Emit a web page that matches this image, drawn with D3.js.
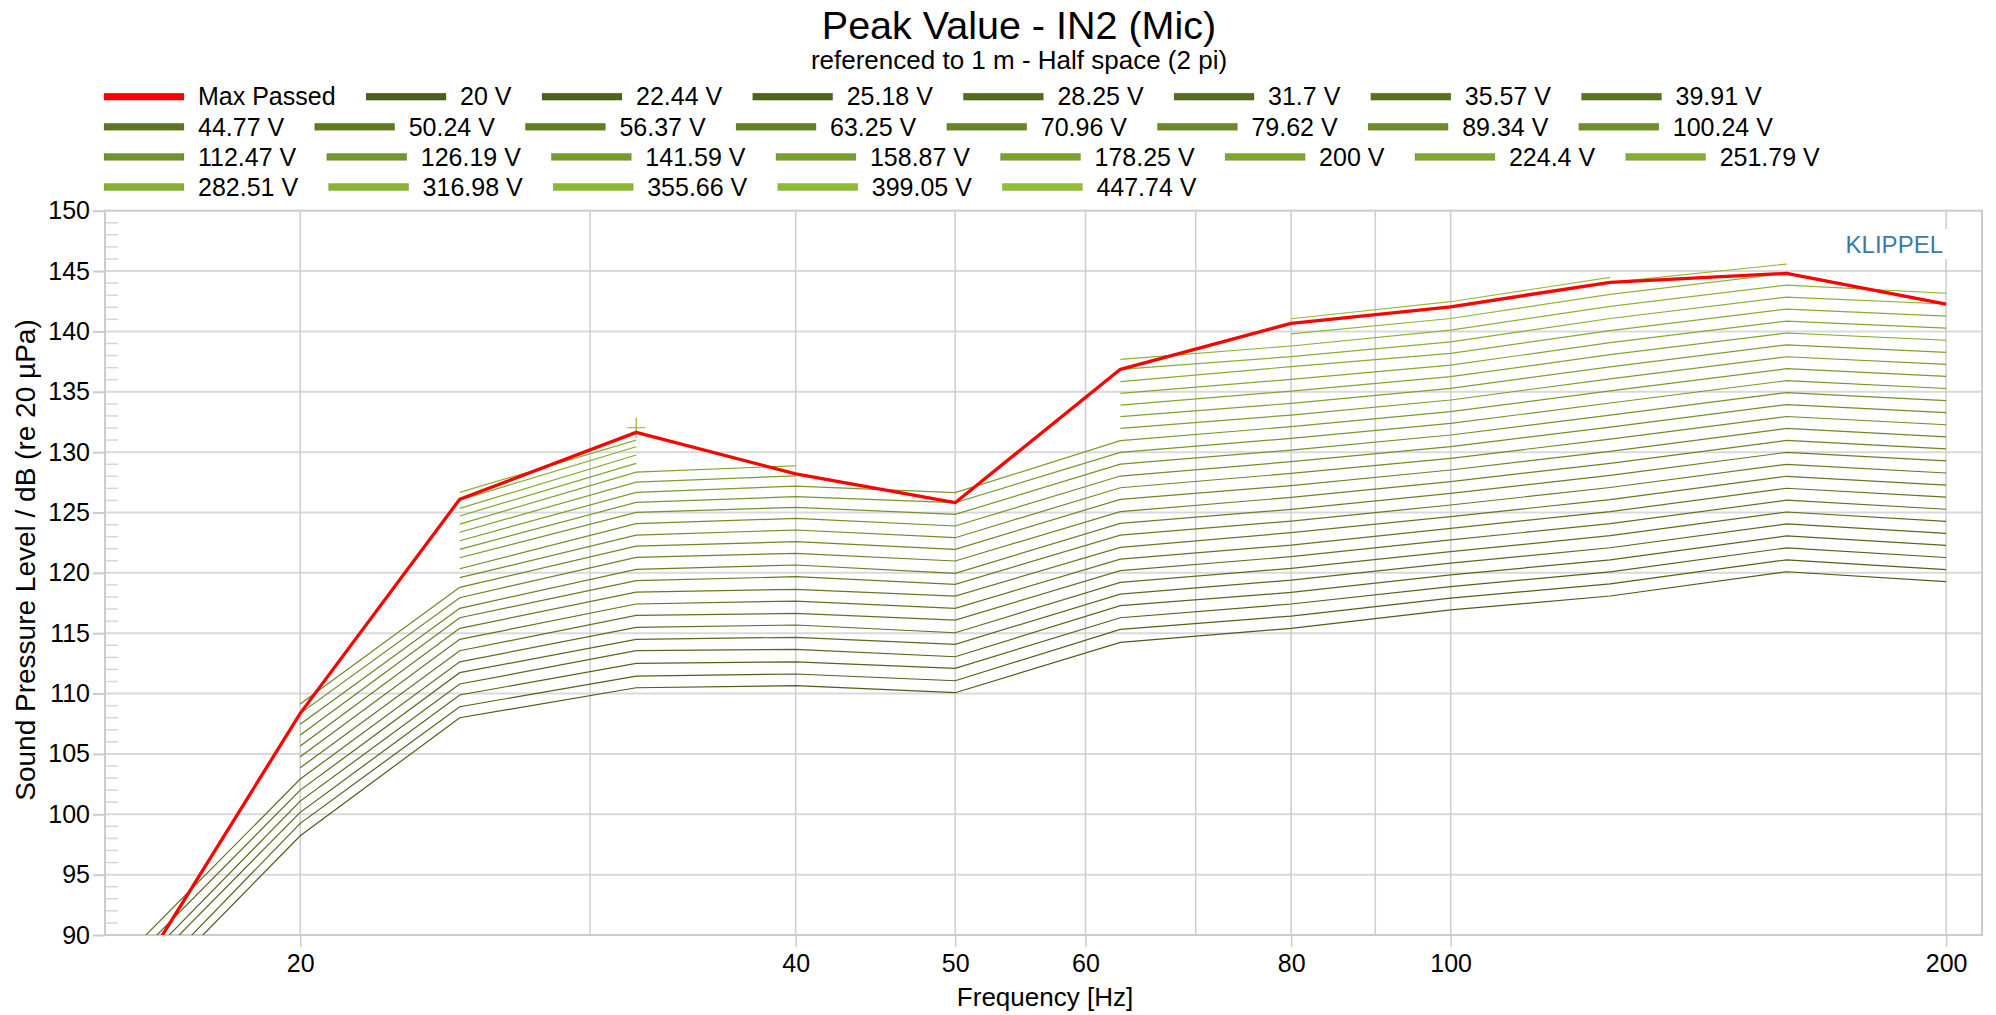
<!DOCTYPE html>
<html><head><meta charset="utf-8">
<script src="https://cdn.jsdelivr.net/npm/d3@7"></script>
<style>html,body{margin:0;padding:0;background:#fff}svg{display:block}text{font-family:'Liberation Sans',Arial,Helvetica,sans-serif}</style>
</head><body><svg id="c" width="1996" height="1015"></svg>
<script>
// ---------------- data ----------------
const freqs = [16, 20, 25, 32, 40, 50, 63, 80, 100, 125, 160, 200];
const voltages = ["20 V","22.44 V","25.18 V","28.25 V","31.7 V","35.57 V","39.91 V",
  "44.77 V","50.24 V","56.37 V","63.25 V","70.96 V","79.62 V","89.34 V","100.24 V",
  "112.47 V","126.19 V","141.59 V","158.87 V","178.25 V","200 V","224.4 V","251.79 V",
  "282.51 V","316.98 V","355.66 V","399.05 V","447.74 V"];
const maxPassed = [87.1, 108.36, 126.1, 131.64, 128.2, 125.81, 136.86, 140.67, 142.04, 144.07, 144.81, 142.27];
// SPL per frequency, indexed by voltage step (null / missing = not measured)
const spl16 = [84.75, 85.63, 86.77, 87.59, 88.64, 89.56];
const spl20 = [98.22, 99.25, 100.16, 101.09, 102.0, 102.92, 103.85, 104.77, 105.65, 106.56, 107.45, 108.36, 109.13];
const spl25 = [108.0, 108.91, 109.88, 110.79, 111.73, 112.63, 113.55, 114.49, 115.40, 116.28, 117.06, 117.94, 118.80,
  119.6, 120.34, 121.25, 121.95, 122.66, 123.36, 124.04, 124.71, 125.34, 126.03, 126.67];
const spl32 = [110.48, 111.45, 112.50, 113.55, 114.49, 115.48, 116.48, 117.42, 118.41, 119.35, 120.29, 121.28, 122.22,
  123.13, 124.07, 125.01, 125.84, 126.67, 127.52, 128.35, 129.07, 129.76, 130.45, 131.0, 132.02];
const spl40 = [110.65, 111.62, 112.63, 113.66, 114.66, 115.68, 116.64, 117.66, 118.63, 119.68, 120.65, 121.62, 122.58,
  123.55, 124.51, 125.43, 126.31, 127.19, 128.04, 128.87];
const spl50 = [110.07, 111.06, 112.09, 113.05, 114.08, 115.04, 116.09, 117.06, 118.08, 119.05, 119.96, 120.98, 121.95,
  122.91, 123.88, 124.84, 125.81, 126.64];
const spl63 = [114.24, 115.32, 116.28, 117.28, 118.24, 119.21, 120.18, 121.14, 122.11, 123.13, 124.10, 125.07, 126.09,
  127.05, 128.02, 129.01, 129.98, 130.95, 131.97, 132.94, 133.90, 134.87, 135.84, 136.86, 137.69];
const spl80 = [115.40, 116.42, 117.42, 118.38, 119.40, 120.37, 121.34, 122.30, 123.33, 124.29, 125.26, 126.25, 127.22,
  128.24, 129.21, 130.17, 131.14, 132.11, 133.07, 134.04, 135.06, 136.03, 137.08, 137.91, 138.79, 139.79, 140.67, 141.05];
const spl100 = [116.93, 117.90, 118.86, 119.83, 120.80, 121.76, 122.73, 123.69, 124.66, 125.62, 126.59, 127.56, 128.52,
  129.49, 130.45, 131.42, 132.38, 133.35, 134.32, 135.28, 136.25, 137.21, 138.18, 139.14, 140.11, 141.07, 142.04, 142.46];
const spl125 = [118.08, 119.08, 120.08, 121.08, 122.08, 123.08, 124.07, 125.07, 126.07, 127.07, 128.07, 129.07, 130.07,
  131.07, 132.07, 133.07, 134.07, 135.07, 136.07, 137.07, 138.07, 139.07, 140.07, 141.07, 142.07, 143.07, 144.07, 144.48];
const spl160 = [120.09, 121.08, 122.07, 123.06, 124.05, 125.04, 126.02, 127.01, 128.0, 128.99, 129.98, 130.97, 131.96,
  132.95, 133.94, 134.93, 135.92, 136.91, 137.9, 138.89, 139.87, 140.86, 141.85, 142.84, 143.83, 144.81, 145.58];
const spl200 = [119.27, 120.27, 121.27, 122.27, 123.27, 124.27, 125.27, 126.27, 127.27, 128.27, 129.27, 130.27, 131.27,
  132.27, 133.27, 134.27, 135.27, 136.27, 137.27, 138.27, 139.27, 140.27, 141.27, 142.27, 143.16];
const yTicks = [90, 95, 100, 105, 110, 115, 120, 125, 130, 135, 140, 145, 150];
const xTicks = [20, 40, 50, 60, 80, 100, 200];
const xGrid = [20, 30, 40, 50, 60, 70, 80, 90, 100, 200];

// ---------------- layout ----------------
const X0 = 105, X1 = 1982, Y0 = 210.7, Y1 = 935;
const svg = d3.select("#c");
const x = d3.scaleLog().domain([15.22, 210.3]).range([X0, X1]);
const y = d3.scaleLinear().domain([90, 150]).range([Y1, Y0]);
const columns = [spl16, spl20, spl25, spl32, spl40, spl50, spl63, spl80, spl100, spl125, spl160, spl200];
const colorOf = i => d3.interpolateRgb("#4b5e1a", "#92bf33")(i / (voltages.length - 1));

svg.append("rect").attr("width", 1996).attr("height", 1015).attr("fill", "#fff");

// titles
svg.append("text").attr("x", 1019).attr("y", 39).attr("text-anchor", "middle")
  .attr("font-size", 39.5).attr("fill", "#000").text("Peak Value - IN2 (Mic)");
svg.append("text").attr("x", 1019).attr("y", 69).attr("text-anchor", "middle")
  .attr("font-size", 26).attr("fill", "#000").text("referenced to 1 m - Half space (2 pi)");

// grid
const grid = svg.append("g");
grid.selectAll(".hg").data(d3.range(95, 150, 5)).join("line")
  .attr("x1", X0).attr("x2", X1).attr("y1", d => y(d)).attr("y2", d => y(d))
  .attr("stroke", "#d9d9d9").attr("stroke-width", 2);
grid.selectAll(".vg").data(xGrid).join("line")
  .attr("x1", d => x(d)).attr("x2", d => x(d)).attr("y1", Y0).attr("y2", Y1)
  .attr("stroke", "#cdcdcd").attr("stroke-width", 1.5);
// minor y ticks
grid.selectAll(".mt").data(d3.range(90, 151).filter(v => v % 5 !== 0)).join("line")
  .attr("x1", X0).attr("x2", X0 + 13).attr("y1", d => y(d)).attr("y2", d => y(d))
  .attr("stroke", "#d6d6d6").attr("stroke-width", 1.5);

// axes
const ax = svg.append("g").attr("transform", `translate(${X0},0)`)
  .call(d3.axisLeft(y).tickValues(yTicks).tickSize(12).tickPadding(3));
ax.select(".domain").remove();
ax.selectAll("line").attr("stroke", "#cccccc").attr("stroke-width", 2);
ax.selectAll("text").attr("font-size", 25).attr("fill", "#000").attr("font-family", "'Liberation Sans',Arial,sans-serif");
const bx = svg.append("g").attr("transform", `translate(0,${Y1})`)
  .call(d3.axisBottom(x).tickValues(xTicks).tickFormat(d3.format("d")).tickSize(12).tickPadding(7));
bx.select(".domain").remove();
bx.selectAll("line").attr("stroke", "#cccccc").attr("stroke-width", 1.5);
bx.selectAll("text").attr("font-size", 25).attr("fill", "#000").attr("font-family", "'Liberation Sans',Arial,sans-serif");

// frame
svg.append("rect").attr("x", X0).attr("y", Y0).attr("width", X1 - X0).attr("height", Y1 - Y0)
  .attr("fill", "none").attr("stroke", "#cccccc").attr("stroke-width", 2);

// KLIPPEL
svg.append("rect").attr("x", 1838).attr("y", 229).attr("width", 112).attr("height", 30).attr("fill", "#fff");
svg.append("text").attr("x", 1943).attr("y", 252.5).attr("text-anchor", "end")
  .attr("font-size", 24).attr("fill", "#3b7aa6").text("KLIPPEL");

// axis titles
svg.append("text").attr("transform", "translate(35,560) rotate(-90)").attr("text-anchor", "middle")
  .attr("font-size", 28).attr("fill", "#000").text("Sound Pressure Level / dB (re 20 µPa)");
svg.append("text").attr("x", 1045).attr("y", 1006).attr("text-anchor", "middle")
  .attr("font-size", 26).attr("fill", "#000").text("Frequency [Hz]");

// plot
svg.append("clipPath").attr("id", "clip").append("rect")
  .attr("x", X0).attr("y", Y0).attr("width", X1 - X0).attr("height", Y1 - Y0);
const plot = svg.append("g").attr("clip-path", "url(#clip)");
const series = voltages.map((v, i) => freqs.map((f, j) => ({ f, v: columns[j][i] == null ? null : columns[j][i] })));
const line = d3.line().defined(d => d.v != null).x(d => x(d.f)).y(d => y(d.v));
plot.selectAll(".s").data(series).join("path")
  .attr("d", line).attr("fill", "none").attr("stroke", (d, i) => colorOf(i)).attr("stroke-width", 1.2);
// isolated points as + markers
series.forEach((s, i) => {
  s.forEach((d, j) => {
    if (d.v == null) return;
    const prev = j > 0 ? s[j - 1].v : null, next = j < s.length - 1 ? s[j + 1].v : null;
    if (prev == null && next == null) {
      const cx = x(d.f), cy = y(d.v);
      plot.append("path").attr("d", `M${cx - 9},${cy}H${cx + 9}M${cx},${cy - 10}V${cy + 10}`)
        .attr("stroke", colorOf(i)).attr("stroke-width", 1.2).attr("fill", "none");
    }
  });
});
const red = freqs.map((f, j) => ({ f, v: maxPassed[j] }));
plot.append("path").attr("d", line(red)).attr("fill", "none").attr("stroke", "#ff0000")
  .attr("stroke-width", 3.3).attr("stroke-linejoin", "round");

// legend
const items = [{ label: "Max Passed", color: "#ff0000" }].concat(voltages.map((v, i) => ({ label: v, color: colorOf(i) })));
const lg = svg.append("g");
let lx = 104, row = 0;
const LX0 = 104, LMAX = 1950, LY0 = 96.7, LROW = 30.1;
items.forEach(it => {
  const t = lg.append("text").attr("font-size", 25).attr("fill", "#000").attr("dy", "0.35em").text(it.label);
  const tw = t.node().getComputedTextLength();
  const w = 94 + tw;
  if (lx + w > LMAX && lx > LX0) { row++; lx = LX0; }
  const cy = LY0 + row * LROW;
  lg.append("rect").attr("x", lx).attr("y", cy - 3.5).attr("width", 80).attr("height", 7)
    .attr("fill", it.color).attr("stroke", "rgba(0,0,0,0.12)").attr("stroke-width", 1);
  t.attr("x", lx + 94).attr("y", cy);
  lx += w + 30.5;
});
</script></body></html>
